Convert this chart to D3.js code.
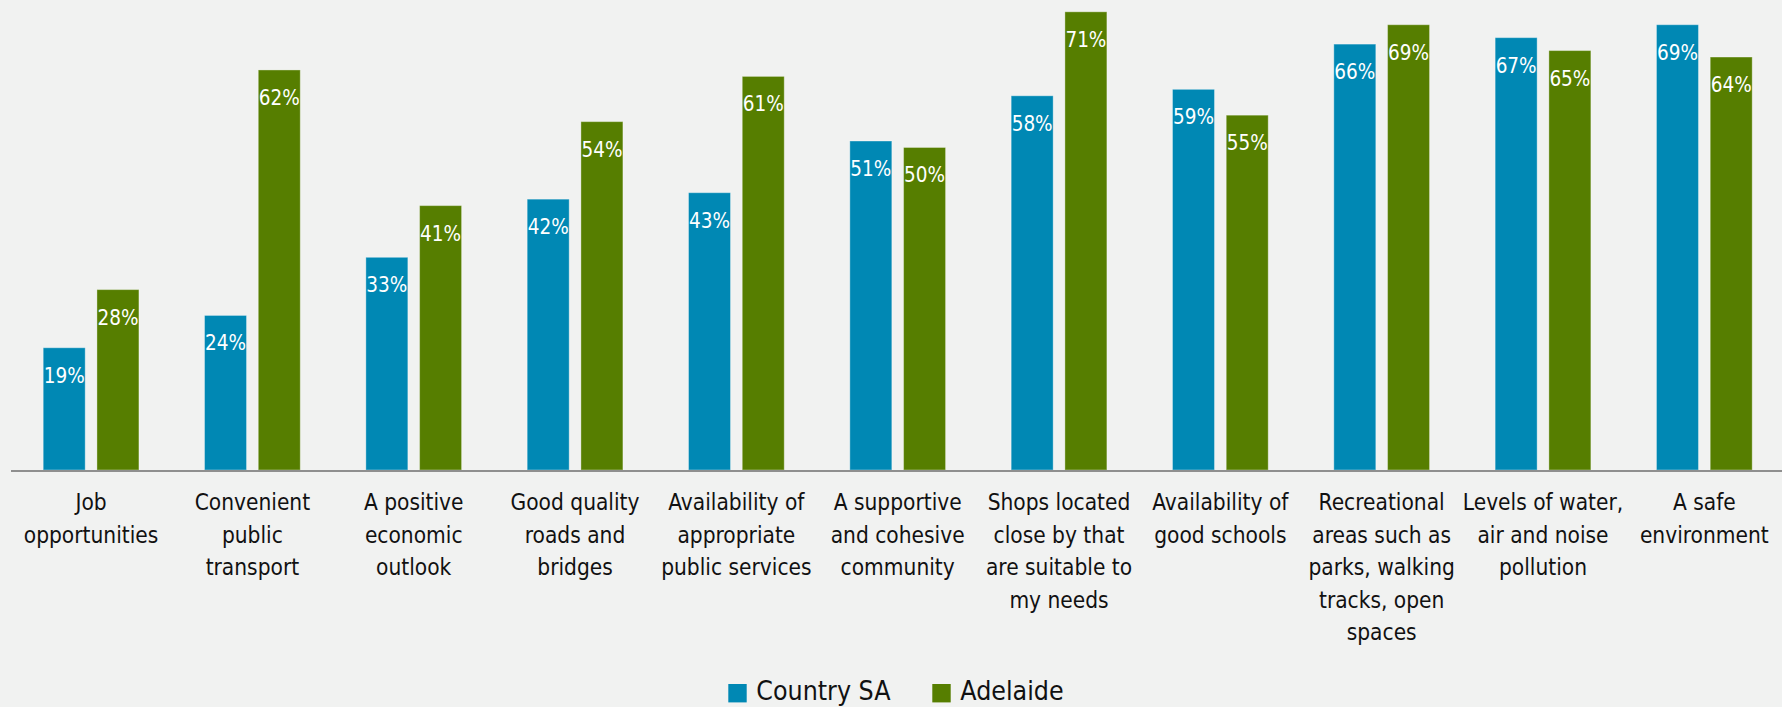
<!DOCTYPE html>
<html>
<head>
<meta charset="utf-8">
<script src="https://cdn.jsdelivr.net/npm/d3@7"></script>
<style>
  html, body { margin: 0; padding: 0; background: #f1f2f1; }
  svg { display: block; }
  text { font-family: "DejaVu Sans Condensed", "DejaVu Sans", sans-serif; }
</style>
</head>
<body>
<svg id="chart" width="1782" height="707"></svg>
<script>
// Survey attributes, each label split into its wrapped lines
const categories = [
  ["Job", "opportunities"],
  ["Convenient", "public", "transport"],
  ["A positive", "economic", "outlook"],
  ["Good quality", "roads and", "bridges"],
  ["Availability of", "appropriate", "public services"],
  ["A supportive", "and cohesive", "community"],
  ["Shops located", "close by that", "are suitable to", "my needs"],
  ["Availability of", "good schools"],
  ["Recreational", "areas such as", "parks, walking", "tracks, open", "spaces"],
  ["Levels of water,", "air and noise", "pollution"],
  ["A safe", "environment"]
];
const seriesNames = ["Country SA", "Adelaide"];
const countrySA = [19, 24, 33, 42, 43, 51, 58, 59, 66, 67, 69];
const adelaide  = [28, 62, 41, 54, 61, 50, 71, 55, 69, 65, 64];
const seriesColors = ["#0088b4", "#567e00"];

const svg = d3.select("#chart");
const W = 1782, H = 707;
const plot = { left: 10.4, right: 1785, top: 0, bottom: 470 };

const keys = categories.map((c, i) => i);
const x0 = d3.scaleBand().domain(keys).range([plot.left, plot.right]).padding(0);
const x1 = d3.scaleBand().domain(seriesNames)
  .range([32.3, x0.bandwidth() - 32.3]).paddingInner(0.2).paddingOuter(0);
const y = d3.scaleLinear().domain([0, 72.75]).range([plot.bottom, plot.top]);

const rows = keys.map(i => ({ i, values: [countrySA[i], adelaide[i]] }));

// Bars
const groups = svg.append("g").selectAll("g").data(rows).join("g")
  .attr("transform", d => `translate(${x0(d.i)},0)`);

groups.selectAll("rect")
  .data(d => d.values.map((v, s) => ({ v, s })))
  .join("rect")
  .attr("x", d => x1(seriesNames[d.s]) + 0.5)
  .attr("y", d => y(d.v) + 0.5)
  .attr("width", x1.bandwidth() - 1)
  .attr("height", d => y(0) - y(d.v) - 0.5)
  .attr("fill", d => seriesColors[d.s])
  .attr("stroke", "rgba(255,255,255,0.35)")
  .attr("stroke-width", 1);

// Value labels inside the top of each bar
groups.selectAll("text.val")
  .data(d => d.values.map((v, s) => ({ v, s })))
  .join("text")
  .attr("class", "val")
  .attr("x", d => x1(seriesNames[d.s]) + x1.bandwidth() / 2)
  .attr("y", d => y(d.v) + 35.5)
  .attr("text-anchor", "middle")
  .attr("fill", "#ffffff")
  .attr("font-size", 20.5)
  .text(d => d.v + "%");

// Baseline
svg.append("line")
  .attr("x1", 11).attr("x2", W)
  .attr("y1", plot.bottom + 1).attr("y2", plot.bottom + 1)
  .attr("stroke", "#8f8f8f").attr("stroke-width", 2);

// Category labels
const xAxis = svg.append("g").attr("transform", `translate(0,${plot.bottom})`);
xAxis.selectAll("text").data(rows).join("text")
  .attr("x", d => x0(d.i) + x0.bandwidth() / 2)
  .attr("y", 40)
  .attr("text-anchor", "middle")
  .attr("fill", "#111111")
  .attr("font-size", 22.5)
  .selectAll("tspan").data(d => categories[d.i]).join("tspan")
  .attr("x", function() { return this.parentNode.getAttribute("x"); })
  .attr("dy", (d, j) => j === 0 ? 0 : 32.5)
  .text(d => d);

// Legend
const legendItems = [
  { name: seriesNames[0], color: seriesColors[0], x: 728.3 },
  { name: seriesNames[1], color: seriesColors[1], x: 932.3 }
];
const legend = svg.append("g");
legend.selectAll("rect").data(legendItems).join("rect")
  .attr("x", d => d.x).attr("y", 684)
  .attr("width", 18.4).attr("height", 18.4)
  .attr("fill", d => d.color);
legend.selectAll("text").data(legendItems).join("text")
  .attr("x", d => d.x + 28)
  .attr("y", 699.5)
  .attr("fill", "#111111")
  .attr("font-size", 26.5)
  .text(d => d.name);
</script>
</body>
</html>
